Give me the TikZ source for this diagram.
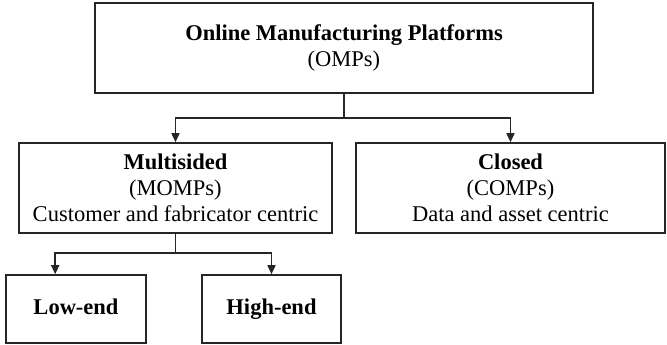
\documentclass[tikz,border=0pt]{standalone}
\usepackage{fontspec}
\setmainfont{Liberation Serif}
\usetikzlibrary{arrows.meta,calc}
\begin{document}
\begin{tikzpicture}[x=1pt,y=-1pt,
  box/.style={draw=black!85,line width=1.6pt,minimum width=#1,inner sep=0pt,align=center,
    font=\fontsize{22.5}{26}\selectfont},
  arr/.style={draw=black!85,line width=1.6pt,-{Triangle[width=8pt,length=9pt]}},
  ln/.style={draw=black!85,line width=1.6pt}]
\useasboundingbox (0,0) rectangle (667,345);
\node[box=498pt,minimum height=90pt] (top) at (344,48) {\textbf{Online Manufacturing Platforms}\\(OMPs)};
\node[box=313pt,minimum height=90pt] (multi) at (175.5,188) {\textbf{Multisided}\\(MOMPs)\\Customer and fabricator centric};
\node[box=309pt,minimum height=90pt] (closed) at (510.5,188) {\textbf{Closed}\\(COMPs)\\Data and asset centric};
\node[box=140pt,minimum height=68pt] (low) at (76,309) {\strut\textbf{Low-end}};
\node[box=139pt,minimum height=68pt] (high) at (271.5,309) {\strut\textbf{High-end}};
\coordinate (j1) at (344,118);
\coordinate (j2) at (175.5,253);
\draw[ln] (top.south) -- (j1);
\draw[arr] (j1) -| (multi.north);
\draw[arr] (j1) -| (closed.north);
\draw[ln] (multi.south) -- (j2);
\draw[arr] (j2) -| ([xshift=50pt]low.north west);
\draw[arr] (j2) -| (high.north);
\end{tikzpicture}
\end{document}
